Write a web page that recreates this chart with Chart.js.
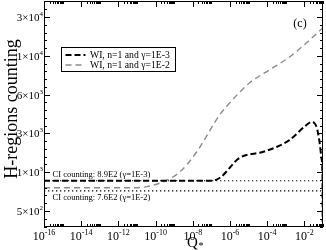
<!DOCTYPE html>
<html>
<head>
<meta charset="utf-8">
<script src="https://cdn.jsdelivr.net/npm/chart.js@4.4.1/dist/chart.umd.min.js"></script>
<style>
  html, body { margin: 0; padding: 0; background: #fff; }
  #wrap { width: 326px; height: 250px; }
</style>
</head>
<body>
<div id="wrap"><canvas id="chart" width="326" height="250"></canvas></div>
<script>
// --- data ---
const qTickExp = [-16, -14, -12, -10, -8, -6, -4, -2];
const yTickValues = [500, 1000, 3000, 6000, 10000, 30000];
const yTickMant = ['5', '1', '3', '6', '1', '3'];
const yTickExp = ['2', '3', '3', '3', '4', '4'];

const seriesLabels = ['WI, n=1 and \u03b3=1E-3', 'WI, n=1 and \u03b3=1E-2'];

// gamma = 1E-3 (black)
const qBlack = [1e-16, 8e-8, 2.75e-7, 3.2e-6, 5.6e-5, 3.2e-4, 1.6e-3, 1.3e-2, 2.4e-2, 4.5e-2, 6.5e-2, 8.3e-2, 9.4e-2, 9.6e-2];
const hBlack = [890, 890, 925, 1730, 2040, 2300, 2660, 3650, 3880, 3500, 2560, 1730, 900, 360];

// gamma = 1E-2 (grey)
const qGrey = [1e-16, 8e-12, 3.4e-11, 2.4e-10, 2e-9, 1.6e-8, 2.75e-7, 9.5e-7, 1.1e-5, 1.3e-4, 1.6e-3, 1.9e-2, 1e-1];
const hGrey = [800, 800, 815, 874, 1010, 2040, 4420, 5350, 7200, 8540, 9880, 18100, 24500];

// CI counting levels
const ciValues = [890, 760];
const ciLabels = ['CI counting: 8.9E2 (\u03b3=1E-3)', 'CI counting: 7.6E2 (\u03b3=1E-2)'];
const qRange = [1e-16, 1e-1];

const SERIF = '"Liberation Serif", "DejaVu Serif", serif';

// y axis of the original is evenly spaced between its labelled ticks
function toPos(v) {
    const T = yTickValues;
    let i = 0;
    while (i < T.length - 2 && v > T[i + 1]) i++;
    return i + (v - T[i]) / (T[i + 1] - T[i]);
}

function pts(qs, hs) {
    return qs.map((q, i) => ({ x: q, y: toPos(hs[i]) }));
}

// text with a superscript, right edge or centre at x
function drawPow(ctx, base, exp, x, y, size, align) {
    ctx.font = size + 'px ' + SERIF;
    const wb = ctx.measureText(base).width;
    const supSize = Math.round(size * 0.68);
    ctx.font = supSize + 'px ' + SERIF;
    const we = ctx.measureText(exp).width;
    let x0 = align === 'right' ? x - wb - we : x - (wb + we) / 2;
    ctx.textAlign = 'left';
    ctx.textBaseline = 'alphabetic';
    ctx.font = size + 'px ' + SERIF;
    ctx.fillText(base, x0, y);
    ctx.font = supSize + 'px ' + SERIF;
    ctx.fillText(exp, x0 + wb, y - size * 0.45);
}

const framePlugin = {
    id: 'frame',
    afterDraw(chart) {
        const ctx = chart.ctx;
        const a = chart.chartArea;
        const xs = chart.scales.x, ys = chart.scales.y;
        ctx.save();
        ctx.strokeStyle = '#000';
        ctx.fillStyle = '#000';
        ctx.lineWidth = 1;

        // box
        ctx.strokeRect(a.left + 0.5, a.top + 0.5, a.right - a.left - 1, a.bottom - a.top - 1);

        // x ticks (inward, top and bottom)
        ctx.beginPath();
        qTickExp.forEach(e => {
            const px = Math.round(xs.getPixelForValue(Math.pow(10, e))) + 0.5;
            ctx.moveTo(px, a.bottom); ctx.lineTo(px, a.bottom - 6);
            ctx.moveTo(px, a.top); ctx.lineTo(px, a.top + 6);
            for (let k = 2; k <= 10; k++) {
                const v = k * Math.pow(10, e);
                if (v > qRange[1]) break;
                const mx = Math.round(xs.getPixelForValue(v)) + 0.5;
                ctx.moveTo(mx, a.bottom); ctx.lineTo(mx, a.bottom - 3);
                ctx.moveTo(mx, a.top); ctx.lineTo(mx, a.top + 3);
            }
        });
        // y ticks (inward, left and right)
        for (let p = -2; p <= 27; p++) {
            const v = p / 5;
            if (v < ys.min || v > ys.max) continue;
            const py = Math.round(ys.getPixelForValue(v)) + 0.5;
            const len = p % 5 === 0 ? 6 : 3;
            ctx.moveTo(a.left, py); ctx.lineTo(a.left + len, py);
            ctx.moveTo(a.right, py); ctx.lineTo(a.right - len, py);
        }
        ctx.stroke();

        // x tick labels
        qTickExp.forEach(e => {
            const px = xs.getPixelForValue(Math.pow(10, e));
            drawPow(ctx, '10', String(e), px, 240, 12, 'center');
        });
        // y tick labels
        yTickValues.forEach((v, i) => {
            const py = ys.getPixelForValue(toPos(v));
            drawPow(ctx, yTickMant[i] + '\u00d710', yTickExp[i], a.left - 1, py + 4, 11, 'right');
        });

        // axis titles
        ctx.save();
        ctx.translate(12, 109);
        ctx.rotate(-Math.PI / 2);
        ctx.font = '18px ' + SERIF;
        ctx.textAlign = 'center';
        ctx.textBaseline = 'middle';
        ctx.fillText('H-regions counting', 0, 0);
        ctx.restore();

        ctx.font = '15px ' + SERIF;
        ctx.textAlign = 'left';
        ctx.textBaseline = 'alphabetic';
        ctx.fillText('Q', 187, 247);
        ctx.font = '10px ' + SERIF;
        ctx.fillText('*', 198.5, 249);

        // panel tag
        ctx.font = '12px ' + SERIF;
        ctx.textAlign = 'center';
        ctx.fillText('(c)', 300, 27);

        // CI labels
        ctx.font = '8.5px ' + SERIF;
        ctx.textAlign = 'left';
        ctx.fillText(ciLabels[0], 52.5, ys.getPixelForValue(toPos(ciValues[0])) - 3.5);
        ctx.fillText(ciLabels[1], 52.5, ys.getPixelForValue(toPos(ciValues[1])) + 9);

        // legend
        const lx = 61.5, ly = 47.5, lw = 114, lh = 24;
        ctx.fillStyle = '#fff';
        ctx.fillRect(lx, ly, lw, lh);
        ctx.strokeStyle = '#000';
        ctx.lineWidth = 1;
        ctx.strokeRect(lx, ly, lw, lh);
        [0, 1].forEach(i => {
            const ds = chart.data.datasets[i];
            const yy = ly + 7.5 + i * 10;
            ctx.strokeStyle = ds.borderColor;
            ctx.lineWidth = ds.borderWidth;
            ctx.setLineDash(ds.borderDash);
            ctx.beginPath();
            ctx.moveTo(lx + 4, yy); ctx.lineTo(lx + 24, yy);
            ctx.stroke();
            ctx.setLineDash([]);
            ctx.fillStyle = '#000';
            ctx.font = '9.7px ' + SERIF;
            ctx.textBaseline = 'middle';
            ctx.fillText(ds.label, lx + 28.5, yy + 0.5);
        });
        ctx.restore();
    }
};

const chart = new Chart(document.getElementById('chart'), {
    type: 'line',
    data: {
        datasets: [
            { label: seriesLabels[0], data: pts(qBlack, hBlack), borderColor: '#000', borderWidth: 2,
              borderDash: [6, 3], pointRadius: 0, cubicInterpolationMode: 'monotone', order: 1 },
            { label: seriesLabels[1], data: pts(qGrey, hGrey), borderColor: '#8c8c8c', borderWidth: 1.4,
              borderDash: [6, 4], pointRadius: 0, cubicInterpolationMode: 'monotone', order: 2 },
            { label: ciLabels[0], data: pts(qRange, [ciValues[0], ciValues[0]]), borderColor: '#000',
              borderWidth: 1.2, borderDash: [1.3, 2.7], pointRadius: 0, order: 3 },
            { label: ciLabels[1], data: pts(qRange, [ciValues[1], ciValues[1]]), borderColor: '#000',
              borderWidth: 1.2, borderDash: [1.3, 2.7], pointRadius: 0, order: 3 }
        ]
    },
    options: {
        responsive: false,
        animation: false,
        devicePixelRatio: 1,
        layout: { padding: { left: 44, right: 3, top: 1, bottom: 23 } },
        plugins: { legend: { display: false }, tooltip: { enabled: false } },
        scales: {
            x: { type: 'logarithmic', min: qRange[0], max: qRange[1], display: false },
            y: { type: 'linear', min: -0.412, max: 5.412, display: false }
        }
    },
    plugins: [framePlugin]
});
</script>
</body>
</html>
